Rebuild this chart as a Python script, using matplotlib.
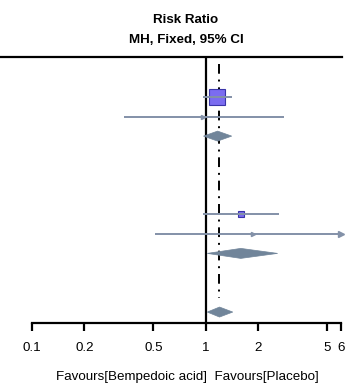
import matplotlib
matplotlib.use('Agg')
import matplotlib.pyplot as plt
from matplotlib.lines import Line2D
from matplotlib.patches import Polygon
import numpy as np

plt.rcParams['font.family'] = ['Liberation Sans', 'DejaVu Sans']

# study rows: (row index, estimate, lower, upper, marker size px)
study_rows = [0, 1, 6, 7]
study_rr = [1.16, 0.97, 1.59, 1.86]
study_lo = [0.97, 0.337, 0.96, 0.51]
study_hi = [1.41, 2.81, 2.63, 6.0]
study_size = [16, 2, 6, 2]
study_arrow = [False, False, False, True]

# pooled diamonds
pool_rows = [2, 8, 11]
pool_rr = [1.17, 1.59, 1.20]
pool_lo = [0.97, 1.02, 1.02]
pool_hi = [1.41, 2.59, 1.43]

overall_rr = 1.19
xticks = [0.1, 0.2, 0.5, 1, 2, 5, 6]
xticklabels = ['0.1', '0.2', '0.5', '1', '2', '5', '6']

W, H = 352, 386
fig = plt.figure(figsize=(W / 100, H / 100), dpi=100)
ax_l, ax_r = 32 / W, 341 / W
ax_top, ax_bot = 57, 323
ax = fig.add_axes([ax_l, 1 - ax_bot / H, ax_r - ax_l, (ax_bot - ax_top) / H])

row0, step = 97, 19.55
ax.set_xscale('log')
ax.set_xlim(0.1, 6)
ax.set_ylim((ax_bot - row0) / step, (ax_top - row0) / step)

LINE_C = '#8391a8'
DIAM_C = '#71859a'
FS = 9.6

ax.axvline(1, color='black', lw=1.6, zorder=1)
ax.plot([overall_rr, overall_rr], [-1.7, 10.3], color='black', lw=1.4,
        linestyle=(0, (5, 3, 1, 3)), zorder=1)


def px_to_rows(px):
    return px / step


for r, est, lo, hi, sz, arr in zip(study_rows, study_rr, study_lo, study_hi,
                                   study_size, study_arrow):
    if sz > 4:
        half = px_to_rows(sz) / 2
        # square width in log units, same pixel size as height
        dec = sz / 173 / 2
        x0, x1 = est / 10 ** dec, est * 10 ** dec
        ax.add_patch(plt.Rectangle((x0, r - half), x1 - x0, 2 * half,
                                   facecolor='#7b6cf0', edgecolor='#3a35a8',
                                   lw=0.8, zorder=3))
    else:
        ax.plot(est, r, marker='>', color=LINE_C, ms=3, zorder=4)
    ax.plot([lo, min(hi, 6)], [r, r], color=LINE_C, lw=1.4, zorder=4,
            solid_capstyle='butt')
    if arr:
        ax.plot(6, r, marker='>', color=LINE_C, ms=5, zorder=4, clip_on=False)

for r, est, lo, hi in zip(pool_rows, pool_rr, pool_lo, pool_hi):
    hh = px_to_rows(10) / 2
    ax.add_patch(Polygon([[lo, r], [est, r - hh], [hi, r], [est, r + hh]],
                         closed=True, facecolor=DIAM_C, edgecolor=DIAM_C,
                         lw=0.5, zorder=3))

for s in ['left', 'right', 'top']:
    ax.spines[s].set_visible(False)
ax.spines['bottom'].set_linewidth(1.6)
ax.set_yticks([])
ax.set_xticks(xticks)
ax.set_xticklabels(xticklabels, fontsize=FS)
ax.xaxis.set_minor_locator(matplotlib.ticker.NullLocator())
ax.tick_params(axis='x', direction='out', length=6, width=1.6, pad=8)

# top rule across the figure
fig.add_artist(Line2D([0, 342 / W], [1 - ax_top / H, 1 - ax_top / H],
                      color='black', lw=1.6))

fig.text(186 / W, 1 - 20 / H, 'Risk Ratio', ha='center', va='center',
         fontsize=FS, fontweight='bold')
fig.text(186 / W, 1 - 40 / H, 'MH, Fixed, 95% CI', ha='center', va='center',
         fontsize=FS, fontweight='bold')
fig.text(187 / W, 1 - 377 / H, 'Favours[Bempedoic acid]  Favours[Placebo]',
         ha='center', va='center', fontsize=FS)

plt.savefig('out.png', dpi=100)
